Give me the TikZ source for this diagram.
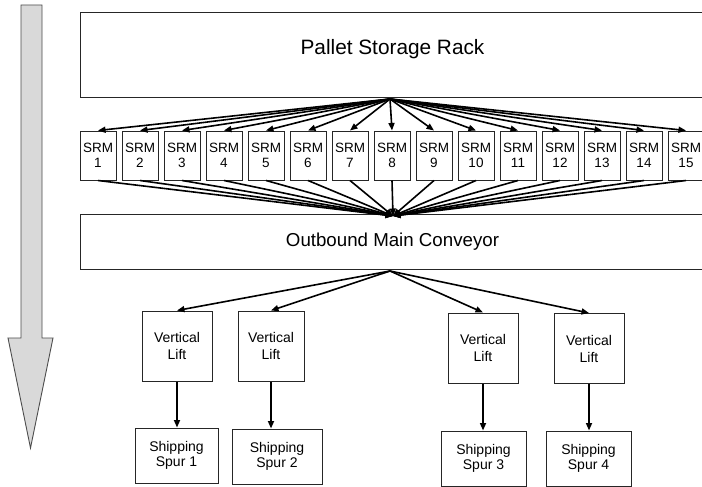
\documentclass[tikz,border=0pt]{standalone}
\usepackage{fontspec}
\setmainfont{Liberation Sans}
\usetikzlibrary{arrows.meta}
\tikzset{
  box/.style={draw=black!85, line width=1pt, rectangle, inner sep=0pt, align=center},
  srmbox/.style={box, minimum width=36pt, minimum height=49pt, font=\fontsize{13.5}{14.5}\selectfont},
  liftbox/.style={box, minimum width=70pt, minimum height=70pt, font=\fontsize{14}{17}\selectfont},
  spurbox/.style={box, minimum height=55pt, font=\fontsize{14}{15.5}\selectfont},
  flow/.style={line width=1.6pt, -{Triangle[length=7.5pt,width=6pt]}},
  bigarrow/.style={draw=black!70, line width=0.9pt, fill=black!15}
}
\begin{document}
\begin{tikzpicture}[x=1pt,y=-1pt]
\clip (0,0) rectangle (702,487);
\fill[white] (0,0) rectangle (702,487);
% big flow arrow
\draw[bigarrow] (21,5) -- (42,5) -- (42,338) -- (53,338) -- (30.5,448) -- (8,338) -- (21,338) -- cycle;
% main boxes
\node[box, minimum width=625pt, minimum height=85pt, text depth=17.2pt, font=\fontsize{20.8}{24}\selectfont] (rack) at (392.5,55.5) {Pallet Storage Rack};
\node[box, minimum width=625pt, minimum height=55pt, font=\fontsize{18.7}{22}\selectfont] (conv) at (392.5,241.5) {Outbound Main Conveyor};
\coordinate (topapex) at (390,99);
\coordinate (botapex) at (393,216);
\coordinate (convapex) at (390,271);
% SRMs
\foreach \i in {1,...,15}{
  \node[srmbox] (srm\i) at ({98+42*(\i-1)},155.5) {SRM\\\i};
  \draw[flow] (topapex) -- (srm\i.north);
  \draw[flow] (srm\i.south) -- (botapex);
}
% lifts
\node[liftbox] (vl1) at (177,346) {Vertical\\Lift};
\node[liftbox, minimum width=66pt] (vl2) at (271,346) {Vertical\\Lift};
\node[liftbox] (vl3) at (483,348) {Vertical\\Lift};
\node[liftbox] (vl4) at (589,348.5) {Vertical\\Lift};
% spurs
\node[spurbox, minimum width=83pt] (ss1) at (176.5,455.5) {Shipping\\Spur 1};
\node[spurbox, minimum width=90pt] (ss2) at (277,456.5) {Shipping\\Spur 2};
\node[spurbox, minimum width=85pt] (ss3) at (483.5,458.5) {Shipping\\Spur 3};
\node[spurbox, minimum width=85pt] (ss4) at (588.5,458.5) {Shipping\\Spur 4};
\foreach \i in {1,...,4}{
  \draw[flow] (convapex) -- (vl\i.north);
  \draw[flow] (vl\i.south) -- (vl\i.south |- ss\i.north);
}
\end{tikzpicture}
\end{document}
